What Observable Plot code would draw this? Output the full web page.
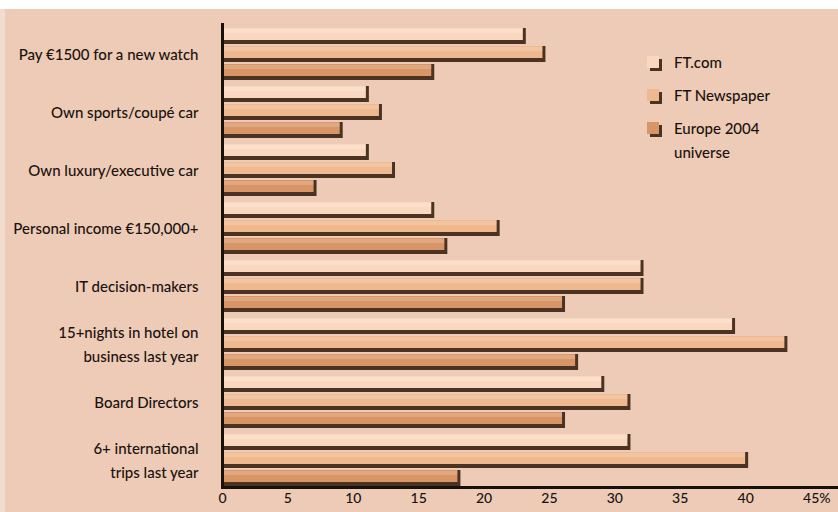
<!DOCTYPE html>
<html>
<head>
<meta charset="utf-8">
<script src="https://cdn.jsdelivr.net/npm/d3@7"></script>
<script src="https://cdn.jsdelivr.net/npm/@observablehq/plot@0.6"></script>
<style>
  body { margin: 0; background: #fff; }
  #chart { position: relative; width: 838px; height: 512px; }
  #chart svg {
    display: block;
    background:
      linear-gradient(to bottom, #ffffff 9px, transparent 9px),
      linear-gradient(to right, #f3dccd 5px, transparent 5px),
      #eecbb6 !important;
  }
  .legend { position: absolute; left: 647px; top: 50px; font-family: Lato, sans-serif; font-size: 15px; font-weight: 500; color: #1a120d; }
  .legend .item { position: relative; height: 33px; padding-left: 27px; line-height: 24px; }
  .legend .swatch { position: absolute; left: 0; top: 6px; width: 12px; height: 12px; box-shadow: 3px 3px 0 #4b3324; }
</style>
</head>
<body>
<div id="chart"></div>
<script>
// Reader profile: share of each audience in each group (%)
const categories = [
  "Pay €1500 for a new watch",
  "Own sports/coupé car",
  "Own luxury/executive car",
  "Personal income €150,000+",
  "IT decision-makers",
  "15+nights in hotel on\nbusiness last year",
  "Board Directors",
  "6+ international\ntrips last year"
];
const seriesNames = ["FT.com", "FT Newspaper", "Europe 2004 universe"];
const ftCom       = [23, 11, 11, 16, 32, 39, 29, 31];
const ftNewspaper = [24.5, 12, 13, 21, 32, 43, 31, 40];
const europe2004  = [16, 9, 7, 17, 26, 27, 26, 18];
const seriesColors = ["#fad8bf", "#efb88e", "#d99566"];
const xTicks = [0, 5, 10, 15, 20, 25, 30, 35, 40, 45];

const seriesValues = [ftCom, ftNewspaper, europe2004];
const rows = categories.flatMap((category, i) =>
  seriesNames.map((series, s) => ({category, series, value: seriesValues[s][i]}))
);

const ink = "#17100c";
const textInk = "#1a120d";
const bar = {x: "value", y: "series", fy: "category"};

const chart = Plot.plot({
  width: 838,
  height: 512,
  marginLeft: 222,
  marginRight: 0,
  marginTop: 21,
  marginBottom: 24,
  style: {fontFamily: "Lato, sans-serif", fontSize: "14px", fontWeight: 500, color: textInk},
  x: {domain: [0, 47.1]},
  y: {domain: seriesNames, axis: null, paddingInner: 0.35, paddingOuter: 0.22},
  fy: {domain: categories, axis: null, padding: 0},
  color: {domain: seriesNames, range: seriesColors},
  marks: [
    // dark drop shadow under and to the right of each bar
    Plot.barX(rows, {...bar, fill: "#4b3324", insetRight: -3, insetBottom: -4}),
    Plot.barX(rows, {...bar, fill: "series"}),
    // soft highlight along the top of each bar
    Plot.barX(rows, {...bar, fill: "#ffffff", fillOpacity: 0.18, insetTop: 1, insetBottom: 7}),
    Plot.ruleX([0], {stroke: ink, strokeWidth: 3}),
    Plot.frame({anchor: "bottom", facetAnchor: "bottom", stroke: ink, strokeWidth: 3}),
    Plot.axisX(xTicks.slice(0, -1), {tickSize: 0, tickPadding: 6, label: null, fontSize: 14, fill: textInk}),
    Plot.axisX(xTicks.slice(-1), {tickSize: 0, tickPadding: 6, label: null, fontSize: 14, fill: textInk,
      tickFormat: d => d + "%", textAnchor: "start", dx: -8}),
    Plot.text(categories, {fy: d => d, text: d => d, frameAnchor: "left", textAnchor: "end",
      dx: -24, lineHeight: 1.55, fontSize: 15, fill: textInk})
  ]
});

const host = document.getElementById("chart");
host.appendChild(chart);

// Legend
const legend = document.createElement("div");
legend.className = "legend";
seriesNames.forEach((name, i) => {
  const item = document.createElement("div");
  item.className = "item";
  const sw = document.createElement("span");
  sw.className = "swatch";
  sw.style.background = seriesColors[i];
  item.appendChild(sw);
  const label = document.createElement("span");
  label.innerHTML = name === "Europe 2004 universe" ? "Europe 2004<br>universe" : name;
  item.appendChild(label);
  legend.appendChild(item);
});
host.appendChild(legend);
</script>
</body>
</html>
